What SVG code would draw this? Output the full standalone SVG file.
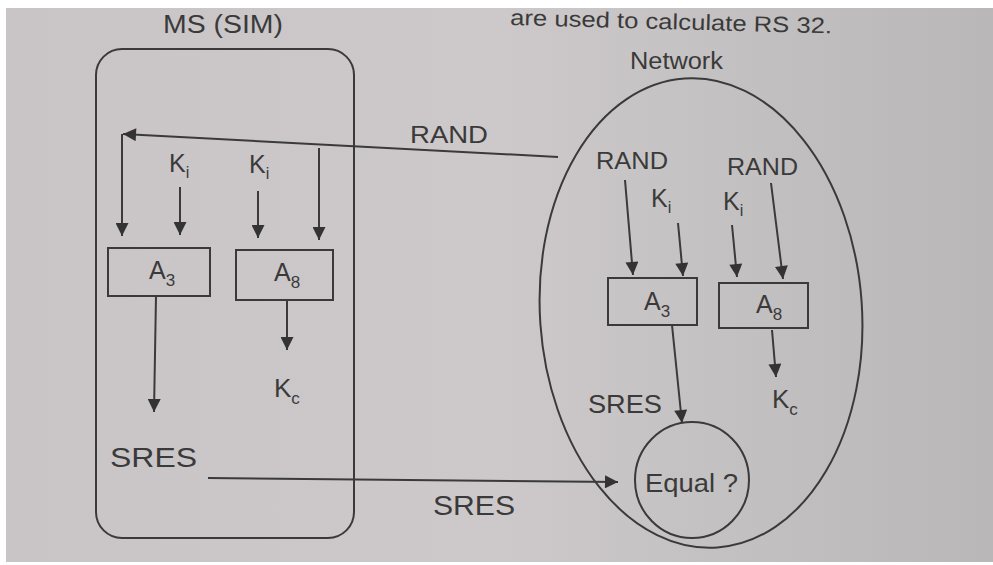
<svg xmlns="http://www.w3.org/2000/svg" width="993" height="565" viewBox="0 0 993 565">
<defs>
<linearGradient id="bg" x1="0" y1="0" x2="1" y2="0">
<stop offset="0" stop-color="#c9c4c6"/>
<stop offset="0.5" stop-color="#cdc9ca"/>
<stop offset="1" stop-color="#b9b7b8"/>
</linearGradient>
<marker id="ah" viewBox="0 0 10 10" refX="10" refY="5" markerWidth="14" markerHeight="13" markerUnits="userSpaceOnUse" orient="auto">
<path d="M0,0 L10,5 L0,10 z" fill="#333"/>
</marker>
</defs>
<style>
.ar{fill:none;stroke:#3a3a3a;stroke-width:2;marker-end:url(#ah)}
.bx{fill:none;stroke:#3a3a3a;stroke-width:2}
text{font-family:"Liberation Sans",Arial,sans-serif;fill:#3a3a3a}
.k{font-size:25px}
.s{font-size:16px}
</style>
<rect width="993" height="565" fill="#ffffff"/>
<rect x="6" y="8" width="987" height="554" fill="url(#bg)"/>
<text x="510" y="25" font-size="22" textLength="322" lengthAdjust="spacingAndGlyphs" transform="rotate(1.5 510 25)">are used to calculate RS 32.</text>

<g id="ms">
<rect class="bx" x="96" y="49" width="258" height="489" rx="26"/>
<text x="163" y="33" font-size="26" textLength="120" lengthAdjust="spacingAndGlyphs">MS (SIM)</text>
</g>
<g id="ms-ki1"><text x="169" y="172" class="k">K<tspan class="s" dy="6">i</tspan></text></g>
<g id="ms-ki2"><text x="249" y="173" class="k">K<tspan class="s" dy="6">i</tspan></text></g>
<g id="ms-a3">
<rect class="bx" x="108" y="248" width="102" height="48"/>
<text x="149" y="279" class="k">A<tspan font-size="17" dy="7">3</tspan></text>
</g>
<g id="ms-a8">
<rect class="bx" x="236" y="250" width="97" height="50"/>
<text x="274" y="281" class="k">A<tspan font-size="17" dy="7">8</tspan></text>
</g>
<g id="ms-kc"><text x="274" y="397" font-size="26">K<tspan font-size="17" dy="7">c</tspan></text></g>
<g id="ms-sres"><text x="110" y="467" font-size="28" textLength="87" lengthAdjust="spacingAndGlyphs">SRES</text></g>

<g id="network">
<ellipse class="bx" cx="701" cy="313" rx="161" ry="235" transform="rotate(-4 701 313)"/>
<text x="630" y="69" font-size="23" textLength="93" lengthAdjust="spacingAndGlyphs">Network</text>
</g>
<g id="net-rand1"><text x="596" y="169" font-size="23" textLength="72" lengthAdjust="spacingAndGlyphs">RAND</text></g>
<g id="net-rand2"><text x="727" y="175" font-size="23" textLength="71" lengthAdjust="spacingAndGlyphs">RAND</text></g>
<g id="net-ki1"><text x="651" y="207" class="k">K<tspan class="s" dy="6">i</tspan></text></g>
<g id="net-ki2"><text x="723" y="210" class="k">K<tspan class="s" dy="6">i</tspan></text></g>
<g id="net-a3">
<rect class="bx" x="608" y="278" width="89" height="47"/>
<text x="644" y="310" class="k">A<tspan font-size="17" dy="7">3</tspan></text>
</g>
<g id="net-a8">
<rect class="bx" x="719" y="283" width="89" height="45"/>
<text x="756" y="313" class="k">A<tspan font-size="17" dy="7">8</tspan></text>
</g>
<g id="net-sres"><text x="588" y="413" font-size="26" textLength="74" lengthAdjust="spacingAndGlyphs">SRES</text></g>
<g id="net-kc"><text x="772" y="408" font-size="26">K<tspan font-size="17" dy="7">c</tspan></text></g>
<g id="equal">
<ellipse class="bx" cx="692" cy="480" rx="57" ry="58"/>
<text x="645" y="492" font-size="26" textLength="93" lengthAdjust="spacingAndGlyphs">Equal ?</text>
</g>

<g id="connectors">
<line class="ar" x1="558" y1="157" x2="123" y2="134"/>
<text x="410" y="143" font-size="24" textLength="78" lengthAdjust="spacingAndGlyphs">RAND</text>
<line class="ar" x1="122" y1="134" x2="122" y2="236"/>
<line class="ar" x1="180" y1="187" x2="180" y2="235"/>
<line class="ar" x1="258" y1="191" x2="258" y2="238"/>
<line class="ar" x1="319" y1="148" x2="319" y2="240"/>
<line class="ar" x1="156" y1="296" x2="154" y2="412"/>
<line class="ar" x1="287" y1="300" x2="287" y2="350"/>
<line class="ar" x1="208" y1="478" x2="618" y2="482"/>
<text x="433" y="515" font-size="27" textLength="82" lengthAdjust="spacingAndGlyphs">SRES</text>
<line class="ar" x1="625" y1="180" x2="633" y2="275"/>
<line class="ar" x1="678" y1="223" x2="683" y2="276"/>
<line class="ar" x1="732" y1="225" x2="737" y2="277"/>
<line class="ar" x1="771" y1="183" x2="783" y2="279"/>
<line class="ar" x1="672" y1="325" x2="682" y2="423"/>
<line class="ar" x1="772" y1="330" x2="776" y2="377"/>
</g>
</svg>
